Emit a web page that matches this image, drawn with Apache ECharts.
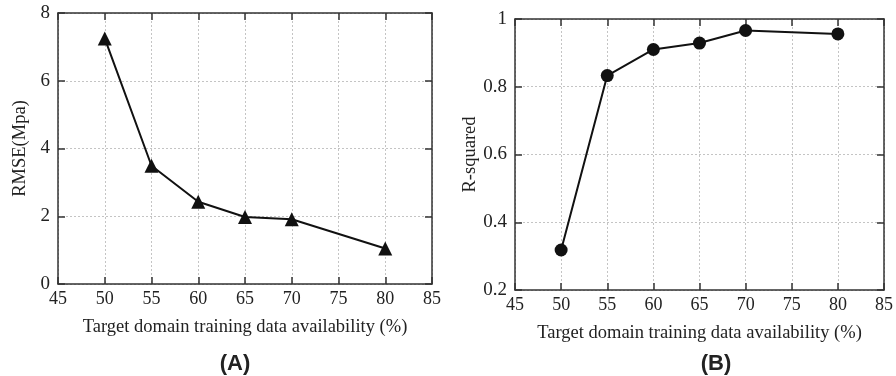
<!DOCTYPE html>
<html>
<head>
<meta charset="utf-8">
<script src="https://cdn.jsdelivr.net/npm/echarts@6/dist/echarts.min.js"></script>
<style>
  html, body { margin: 0; padding: 0; background: #fff; }
  #chart { width: 896px; height: 376px; }
</style>
</head>
<body>
<div id="chart"></div>
<script>
// data
const availability = [50, 55, 60, 65, 70, 80];
const rmse = [7.25, 3.49, 2.43, 1.98, 1.91, 1.05];
const rSquared = [0.318, 0.833, 0.910, 0.929, 0.966, 0.956];

const xName = 'Target domain training data availability (%)';
const serif = '"Liberation Serif", "DejaVu Serif", serif';
const axisColor = '#333';

const chart = echarts.init(document.getElementById('chart'));

const pairs = (ys) => availability.map((x, i) => [x, ys[i]]);

// main (labelled) x axis + a mirror on top for the frame ticks
const xAxes = (gridIndex) => [
  {
    gridIndex, type: 'value', min: 45, max: 85, interval: 5,
    name: xName, nameLocation: 'middle', nameGap: 34,
    nameTextStyle: { fontFamily: serif, fontSize: 18.5, color: '#222' },
    axisLine: { lineStyle: { color: axisColor, width: 1.5 } },
    axisTick: { inside: true, length: 7, lineStyle: { color: axisColor, width: 1.5 } },
    axisLabel: { fontFamily: serif, fontSize: 18, color: '#222', margin: 6 },
    splitLine: { show: true, lineStyle: { color: '#c4c4c4', type: [2, 2], width: 1 } }
  },
  {
    gridIndex, type: 'value', min: 45, max: 85, interval: 5, position: 'top',
    axisLine: { onZero: false, lineStyle: { color: axisColor, width: 1.5 } },
    axisTick: { inside: true, length: 7, lineStyle: { color: axisColor, width: 1.5 } },
    axisLabel: { show: false }, splitLine: { show: false }
  }
];

const yAxes = (gridIndex, min, max, interval, name, fmt) => [
  {
    gridIndex, type: 'value', min, max, interval,
    name, nameLocation: 'middle', nameGap: 28,
    nameTextStyle: { fontFamily: serif, fontSize: 18.5, color: '#222' },
    axisLine: { lineStyle: { color: axisColor, width: 1.5 } },
    axisTick: { inside: true, length: 7, lineStyle: { color: axisColor, width: 1.5 } },
    axisLabel: { fontFamily: serif, fontSize: 19, color: '#222', margin: 8, formatter: fmt },
    splitLine: { show: true, lineStyle: { color: '#c4c4c4', type: [2, 2], width: 1 } }
  },
  {
    gridIndex, type: 'value', min, max, interval, position: 'right',
    axisLine: { show: true, onZero: false, lineStyle: { color: axisColor, width: 1.5 } },
    axisTick: { show: true, inside: true, length: 7, lineStyle: { color: axisColor, width: 1.5 } },
    axisLabel: { show: false }, splitLine: { show: false }
  }
];

const fmtR = (v) => (v === 1 ? '1' : String(Math.round(v * 10) / 10));

const panelStyle = { fontFamily: 'Arial, "Liberation Sans", sans-serif', fontSize: 22, fontWeight: 'bold', color: '#222' };

chart.setOption({
  animation: false,
  grid: [
    { left: 58, top: 13, width: 374, height: 271 },
    { left: 515, top: 19, width: 373, height: 271 }
  ],
  xAxis: [...xAxes(0), ...xAxes(1)],
  yAxis: [
    ...yAxes(0, 0, 8, 2, 'RMSE(Mpa)'),
    ...yAxes(1, 0.2, 1, 0.2, 'R-squared', fmtR)
  ],
  title: [
    { text: '(A)', left: 230, top: 348, textAlign: 'center', textStyle: panelStyle },
    { text: '(B)', left: 711, top: 348, textAlign: 'center', textStyle: panelStyle }
  ],
  series: [
    {
      type: 'line', xAxisIndex: 0, yAxisIndex: 0, data: pairs(rmse),
      symbol: 'triangle', symbolSize: 14,
      lineStyle: { color: '#111', width: 2 }, itemStyle: { color: '#111' }
    },
    {
      type: 'line', xAxisIndex: 2, yAxisIndex: 2, data: pairs(rSquared),
      symbol: 'circle', symbolSize: 13,
      lineStyle: { color: '#111', width: 2 }, itemStyle: { color: '#111' }
    }
  ]
});
</script>
</body>
</html>
